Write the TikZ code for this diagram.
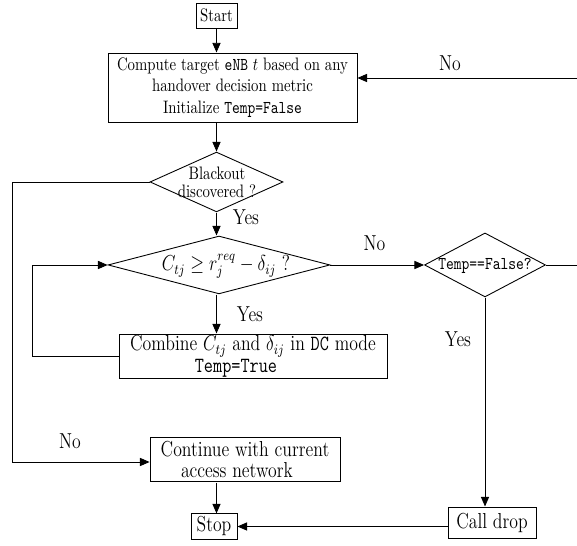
\documentclass[tikz,border=0pt]{standalone}
\usetikzlibrary{shapes.geometric,arrows.meta}
\begin{document}
\begin{tikzpicture}[
  x=0.676pt, y=-0.554pt, yscale=1.22,
  every node/.append style={transform shape},
  box/.style={draw, rectangle, align=center, inner sep=1.5pt, line width=0.6pt},
  dia/.style={draw, diamond, inner sep=0pt, line width=0.6pt},
  dtext/.style={inner sep=0pt, align=center},
  lbl/.style={font=\large, inner sep=0pt, anchor=base},
  link/.style={line width=0.6pt},
  flow/.style={link, -{Triangle[length=6.5pt,width=5.5pt]}}
]
\useasboundingbox (0,0) rectangle (577,546);
\clip (0,0) rectangle (577,546);

% process boxes
\node[box, minimum width=27.7pt, minimum height=13.9pt] (start) at (216.5,15.5) {Start};
\node[box, minimum width=168.3pt, minimum height=38.2pt] (comp) at (232.5,87.5)
  {Compute target \texttt{eNB} $t$ based on any\\handover decision metric\\Initialize \texttt{Temp=False}};
\node[box, font=\large, minimum width=181.2pt, minimum height=24.9pt, inner ysep=0.5pt] (comb) at (253,356.5)
  {Combine $C_{tj}$ and $\delta_{ij}$ in \texttt{DC} mode\\[-2pt]\texttt{Temp=True}\hspace*{23pt}};
\node[box, font=\large, minimum width=128.4pt, minimum height=24.9pt, inner ysep=0.5pt] (cont) at (245,459.5)
  {Continue with current\\[-2.5pt]access network\hspace*{11pt}};
\node[box, font=\large, minimum width=31.1pt, minimum height=13.9pt, inner sep=1pt] (stop) at (214,526.5) {Stop};
\node[box, font=\large, minimum width=59.5pt, minimum height=17.7pt, inner sep=1pt] (call) at (492,523) {Call drop};

% decisions
\node[dia, minimum width=89.9pt, minimum height=33.2pt] (bo) at (216.5,182) {};
\node[dtext, font=\fontsize{10}{10}\selectfont] (bo-t) at (217,182) {Blackout\\discovered ?};
\node[dia, minimum width=150pt, minimum height=32.1pt] (cond) at (219,265) {};
\node[dtext, font=\large, anchor=base] (cond-t) at (226,271) {$C_{tj}\geq r_j^{req}-\delta_{ij}$ ?};
\node[dia, minimum width=81.8pt, minimum height=35.5pt] (tmp) at (485,265) {};
\node[dtext, anchor=base] (tmp-t) at (485,270) {\texttt{Temp==False?}};

% branch labels
\node[lbl] (no1) at (450,71) {No};
\node[lbl] (yes1) at (246,225) {Yes};
\node[lbl] (no2) at (374.5,251) {No};
\node[lbl] (yes2) at (250,322) {Yes};
\node[lbl] (yes3) at (458,347) {Yes};
\node[lbl] (no3) at (70,449) {No};

% bends of the side paths
\coordinate (lx) at (12,462);
\coordinate (ly) at (32,265);
\coordinate (fb) at (600,78);

% connectors
\draw[flow] (start) -- (start |- comp.north);
\draw[flow] (comp.south -| bo) -- (bo.north);
\draw[flow] (bo.west) -| (lx) -- (lx -| cont.west);
\draw[flow] (bo.south) -- (bo.south |- cond.north);
\draw[flow] (cond.east) -- (tmp.west);
\draw[flow] (cond.south -| bo) -- (comb.north -| bo);
\draw[flow] (comb.west) -| (ly) -- (cond.west);
\draw[flow] (tmp.east) -| (fb) -- (fb -| comp.east);
\draw[flow] (tmp.south) -- (tmp.south |- call.north);
\draw[flow] (cont.south -| bo) -- (stop.north -| bo);
\draw[flow] (stop.east -| call.west) -- (stop.east);
\end{tikzpicture}
\end{document}
